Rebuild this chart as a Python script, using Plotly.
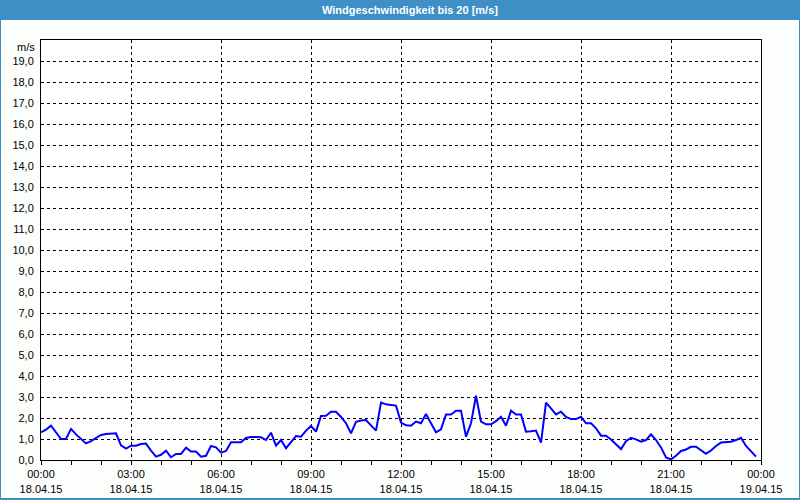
import plotly.graph_objects as go
import pandas as pd

# --- data (10-minute samples, 18.04.2015) ---
start_time = "2015-04-18 00:00"
interval_minutes = 10
wind_speed = [
    1.32, 1.45, 1.63, 1.30, 1.00, 1.00, 1.48, 1.22, 1.00, 0.79,
    0.90, 1.05, 1.19, 1.24, 1.26, 1.27, 0.70, 0.54, 0.68, 0.68,
    0.76, 0.78, 0.45, 0.16, 0.25, 0.44, 0.13, 0.29, 0.29, 0.59,
    0.40, 0.40, 0.16, 0.20, 0.67, 0.60, 0.35, 0.43, 0.85, 0.86,
    0.84, 1.05, 1.10, 1.10, 1.08, 0.95, 1.30, 0.68, 0.95, 0.56,
    0.85, 1.14, 1.11, 1.40, 1.62, 1.35, 2.10, 2.11, 2.30, 2.30,
    2.05, 1.75, 1.27, 1.82, 1.88, 1.90, 1.65, 1.40, 2.73, 2.65,
    2.62, 2.59, 1.78, 1.65, 1.63, 1.83, 1.75, 2.19, 1.75, 1.32,
    1.46, 2.17, 2.17, 2.35, 2.35, 1.11, 1.75, 3.06, 1.83, 1.70,
    1.70, 1.85, 2.06, 1.63, 2.35, 2.17, 2.17, 1.35, 1.37, 1.40,
    0.83, 2.73, 2.46, 2.17, 2.30, 2.05, 1.95, 1.95, 2.06, 1.75,
    1.75, 1.51, 1.16, 1.16, 0.98, 0.75, 0.52, 0.90, 1.06, 0.98,
    0.87, 0.95, 1.22, 0.95, 0.60, 0.12, 0.03, 0.20, 0.43, 0.50,
    0.63, 0.63, 0.48, 0.30, 0.45, 0.67, 0.83, 0.84, 0.87, 0.95,
    1.06, 0.67, 0.43, 0.16,
]
times = pd.date_range(start_time, periods=len(wind_speed), freq=f"{interval_minutes}min")

x_tick_vals = pd.date_range("2015-04-18 00:00", "2015-04-19 00:00", freq="3h")
x_tick_text = [
    "00:00<br>18.04.15", "03:00<br>18.04.15", "06:00<br>18.04.15",
    "09:00<br>18.04.15", "12:00<br>18.04.15", "15:00<br>18.04.15",
    "18:00<br>18.04.15", "21:00<br>18.04.15", "00:00<br>19.04.15",
]
y_tick_vals = list(range(0, 20))
title_text = "Windgeschwindigkeit bis 20 [m/s]"
unit_text = "m/s"

W, H = 800, 500
L, R, T, B = 41, 39, 40, 40
PW, PH = W - L - R, H - T - B

def px_x(p):
    return (p - L) / PW

def px_y(p):
    return (H - B - p) / PH

fig = go.Figure()
fig.add_trace(go.Scatter(
    x=times, y=wind_speed, mode="lines",
    line=dict(color="#0000ff", width=2),
    hoverinfo="skip",
))

font = dict(family="Liberation Sans, Arial, sans-serif", size=11, color="#000000")

fig.update_layout(
    width=W, height=H,
    margin=dict(l=L, r=R, t=T, b=B, pad=0, autoexpand=False),
    paper_bgcolor="#3d8fc6",
    plot_bgcolor="rgba(0,0,0,0)",
    separators=",.",
    showlegend=False,
    font=font,
    shapes=[
        dict(type="rect", xref="paper", yref="paper", layer="below",
             x0=px_x(1), x1=px_x(799), y0=px_y(498), y1=px_y(20),
             fillcolor="#fcfefc", line=dict(width=0)),
        dict(type="rect", xref="paper", yref="paper", layer="below",
             x0=0, x1=1, y0=0, y1=1,
             fillcolor="#ffffff", line=dict(width=0)),
    ],
    annotations=[
        dict(text="<b>" + title_text + "</b>", xref="paper", yref="paper",
             x=px_x(410), y=px_y(10), xanchor="center", yanchor="middle",
             showarrow=False,
             font=dict(family="Liberation Sans, Arial, sans-serif", size=11, color="#ffffff")),
        dict(text=unit_text, xref="paper", yref="paper",
             x=px_x(37), y=px_y(47), xanchor="right", yanchor="middle",
             showarrow=False, font=font),
    ],
)

fig.update_xaxes(
    type="date",
    automargin=False,
    range=[x_tick_vals[0], x_tick_vals[-1]],
    tickvals=x_tick_vals, ticktext=x_tick_text,
    ticks="outside", ticklen=4, tickcolor="#000000",
    showgrid=True, gridcolor="#000000", gridwidth=1, griddash="3px,3px",
    showline=True, linecolor="#000000", linewidth=1, mirror=True,
    zeroline=False,
    minor=dict(dtick=3600000, ticks="outside", ticklen=4, tickcolor="#000000", showgrid=False),
    tickfont=font,
    fixedrange=True,
)
fig.update_yaxes(
    automargin=False,
    range=[0, 20],
    tickvals=y_tick_vals, tickformat=".1f",
    ticks="", ticklabelstandoff=4,
    showgrid=True, gridcolor="#000000", gridwidth=1, griddash="3px,3px",
    showline=True, linecolor="#000000", linewidth=1, mirror=True,
    zeroline=False,
    tickfont=font,
    fixedrange=True,
)

fig.write_html(
    "out.html",
    config={"displayModeBar": False},
    post_script="document.body.style.margin='0';document.body.style.overflow='hidden';",
)
